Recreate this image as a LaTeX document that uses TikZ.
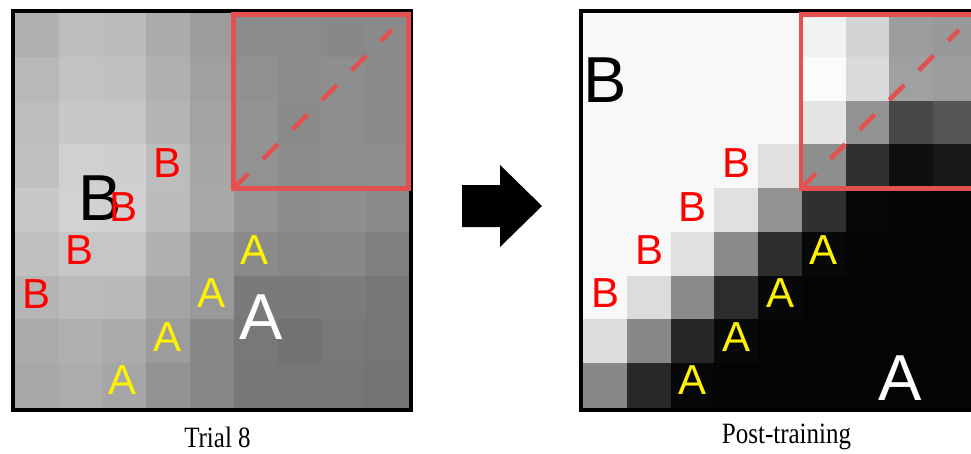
\documentclass[tikz,border=0pt]{standalone}
\usepackage{fontspec}
\setmainfont{Liberation Serif}
\newfontfamily\letterfont{Liberation Sans}
\definecolor{boxred}{RGB}{226,80,80}
\newcommand{\tallcap}[1]{\scalebox{1}[1.18]{#1}}
\begin{document}
\begin{tikzpicture}[x=1pt,y=-1pt]
    \tikzstyle{smallletter}=[inner sep=0pt, font=\letterfont\fontsize{42}{42}\selectfont]
    \tikzstyle{bletter}=[smallletter, text=red]
    \tikzstyle{aletter}=[smallletter, text=yellow]
    \tikzstyle{bigletter}=[inner sep=0pt, font=\letterfont\fontsize{65}{65}\selectfont]
    \tikzstyle{caption}=[inner sep=0pt, font=\fontsize{25}{25}\selectfont]
    \tikzstyle{frame}=[draw=black, line width=4pt]
    \tikzstyle{redbox}=[draw=boxred, line width=4.5pt]
    \tikzstyle{diagline}=[draw=boxred, line width=4.5pt, dash pattern=on 21pt off 20.7pt]
    \useasboundingbox (0,0) rectangle (971,453);
    \fill[white] (0,0) rectangle (971,453);
    % trial 8 map
    \foreach \row [count=\r from 0] in {
      {176,189,188,171,156,140,140,136,138},
      {184,194,192,176,160,144,140,142,138},
      {189,200,198,181,163,147,138,142,138},
      {192,208,207,189,167,146,140,142,142},
      {200,210,208,188,168,149,140,143,138},
      {192,198,198,176,154,138,134,136,127},
      {181,187,184,164,153,122,122,124,119},
      {171,176,170,156,136,120,114,120,118},
      {168,172,166,147,135,119,118,118,116}}{
      \foreach \v [count=\c from 0] in \row {
        \definecolor{cellgray}{RGB}{\v,\v,\v}
        \fill[cellgray] (15+\c*43.78, 13+\r*43.78) rectangle +(44.3,44.3);
      }
    }
    % post-training map
    \foreach \row [count=\r from 0] in {
      {248,248,248,248,248,242,212,156,152},
      {248,248,248,248,248,251,218,160,156},
      {248,248,248,248,248,228,146,72,85},
      {248,248,248,248,224,142,48,15,24},
      {248,248,248,224,146,48,8,5,5},
      {248,248,224,138,44,8,5,5,5},
      {248,220,138,44,8,5,4,4,4},
      {220,136,38,8,4,4,4,4,4},
      {136,40,6,4,4,4,4,4,4}}{
      \foreach \v [count=\c from 0] in \row {
        \definecolor{cellgray}{RGB}{\v,\v,\v}
        \fill[cellgray] (583+\c*43.78, 13+\r*43.78) rectangle +(44.3,44.3);
      }
    }
    \draw[frame] (13,10.5) rectangle (411,409.5);
    \draw[frame] (581,10.5) rectangle (979,409.5);

    % red boxes with diagonals
    \coordinate (tcorner) at (233.5,188.5);
    \coordinate (ttop) at (392,30);
    \coordinate (pcorner) at (801,188.5);
    \coordinate (ptop) at (959,30);
    \draw[redbox] (tcorner) rectangle (408.5,14.5);
    \draw[diagline] (tcorner) -- (ttop);
    \draw[redbox] (pcorner) rectangle (976,14.5);
    \draw[diagline] (pcorner) -- (ptop);

    % letters, trial 8
    \node[bigletter] (tb) at (100,198) {B};
    \foreach \x/\y [count=\i] in {168/163,124/207,80/250,37/294}
      \node[bletter] (tb\i) at (\x,\y) {B};
    \foreach \x/\y [count=\i] in {255/250,212/293,168/337,123/380}
      \node[aletter] (ta\i) at (\x,\y) {A};
    \node[bigletter, text=white] (ta) at (261,317) {A};

    % letters, post-training
    \node[bigletter] (pb) at (605,80) {B};
    \foreach \x/\y [count=\i] in {736/163,692/207,649/250,605/293}
      \node[bletter] (pb\i) at (\x,\y) {B};
    \foreach \x/\y [count=\i] in {823/250,780/293,736/337,692/380}
      \node[aletter] (pa\i) at (\x,\y) {A};
    \node[bigletter, text=white] (pa) at (900,378) {A};

    % arrow between the maps
    \fill[black] (462,185) -- (500,185) -- (500,165) -- (542,206)
      -- (500,247) -- (500,227) -- (462,227) -- cycle;

    \node[caption] (tcap) at (217.5,437) {\tallcap{Trial 8}};
    \node[caption] (pcap) at (786.5,437) {\tallcap{Post-training}};
\end{tikzpicture}
\end{document}
